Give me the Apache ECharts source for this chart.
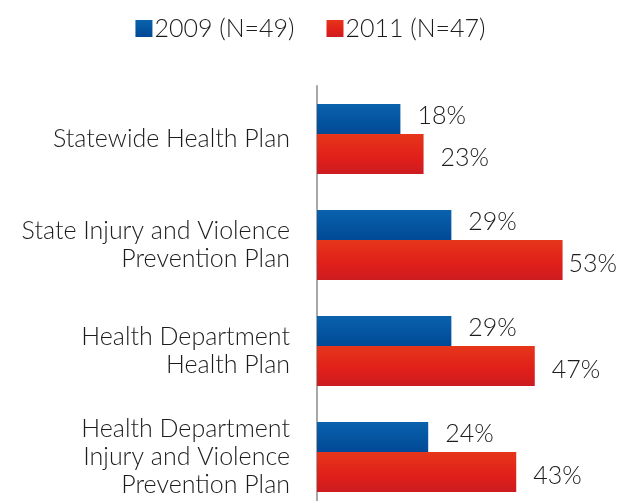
<!DOCTYPE html>
<html>
<head>
<meta charset="utf-8">
<script src="https://cdn.jsdelivr.net/npm/echarts@6/dist/echarts.min.js"></script>
<style>html,body{margin:0;padding:0;background:#fff;overflow:hidden}#c{width:621px;height:512px}</style>
</head>
<body>
<div id="c"></div>
<script>
const categories = ["Statewide Health Plan", "State Injury and Violence\nPrevention Plan", "Health Department\nHealth Plan", "Health Department\nInjury and Violence\nPrevention Plan"];
const seriesNames = ["2009 (N=49)", "2011 (N=47)"];
const values2009 = [18, 29, 29, 24];
const values2011 = [23, 53, 47, 43];

const font = 'Lato, "Open Sans", sans-serif';
const txt = '#1c1c1c';
const chart = echarts.init(document.getElementById('c'), null, {renderer: 'canvas'});
const blueGrad = new echarts.graphic.LinearGradient(0, 0, 0, 1, [
  {offset: 0, color: '#0a62ad'}, {offset: 1, color: '#004996'}]);
const redGrad = new echarts.graphic.LinearGradient(0, 0, 0, 1, [
  {offset: 0, color: '#e6361a'}, {offset: 0.6, color: '#e01f1a'}, {offset: 1, color: '#cc1c20'}]);

chart.setOption({
  animation: false,
  textStyle: {fontFamily: font},
  legend: {
    top: 11, left: 'center', itemWidth: 17, itemHeight: 17, itemGap: 32, icon: 'rect',
    textStyle: {fontSize: 25, color: txt, fontFamily: font, fontWeight: 300, padding: [0, 0, 0, -3]},
    data: seriesNames
  },
  grid: {left: 317, top: 86, width: 278, height: 424, containLabel: false},
  xAxis: {type: 'value', min: 0, max: 60, show: false},
  yAxis: {
    type: 'category', inverse: true, data: categories,
    axisLine: {show: true, lineStyle: {color: '#a8a8a8', width: 2}},
    axisTick: {show: false},
    axisLabel: {fontSize: 25, color: txt, margin: 27, lineHeight: 28, fontFamily: font, fontWeight: 300, align: 'right'}
  },
  series: [
    {
      name: seriesNames[0], type: 'bar', barWidth: 30, barGap: '0%',
      itemStyle: {color: blueGrad},
      label: {show: true, position: 'right', distance: 17, offset: [0, -3], fontSize: 25, color: txt, fontFamily: font, fontWeight: 300, formatter: '{c}%'},
      data: values2009
    },
    {
      name: seriesNames[1], type: 'bar', barWidth: 40, barGap: '0%',
      itemStyle: {color: redGrad},
      label: {show: true, position: 'right', distance: 17, offset: [0, 4], fontSize: 25, color: txt, fontFamily: font, fontWeight: 300, formatter: '{c}%'},
      data: values2011.map((v, i) => i === 1 ? {value: v, label: {distance: 6}} : v)
    }
  ]
});
</script>
</body>
</html>
